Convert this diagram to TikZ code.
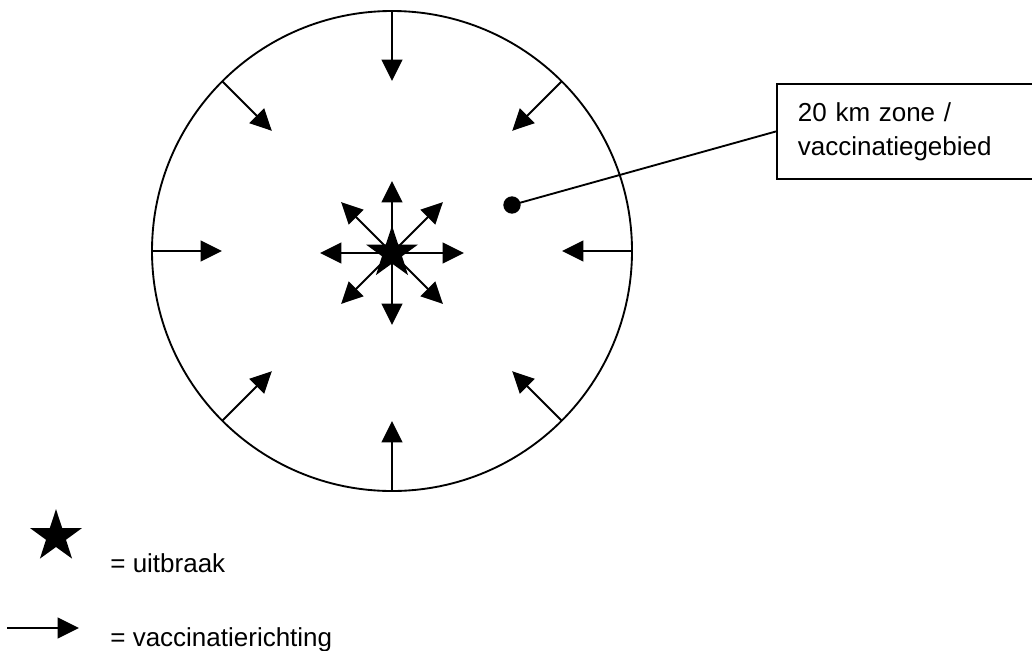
\documentclass[tikz,border=0pt]{standalone}
\usepackage{fontspec}
\setmainfont{Liberation Sans}
\usetikzlibrary{arrows.meta, calc, positioning, shapes.geometric}

\begin{document}
\begin{tikzpicture}[x=0.75pt, y=-0.75pt, line width=1.4pt,
    font=\fontsize{19.5}{25.5}\selectfont,
    vacc/.style={-{Triangle[length=16pt,width=15.5pt]}},
    outbreakstar/.style={star, star points=5, star point ratio=2.6,
        fill=black, inner sep=0pt, minimum size=#1},
]
\clip (0,0) rectangle (1032,650);

% 20 km zone
\node (zone20) [draw, circle, minimum size=360pt, inner sep=0pt, outer sep=0pt] at (392,251) {};
\foreach \a in {0,45,...,315}
    \draw[vacc] (zone20.\a) -- ($(zone20.\a)!52.5pt!(zone20.center)$);

% uitbraak in het midden
\coordinate (mid) at (392,253);
\foreach \a in {0,45,...,315}
    \draw[vacc] (mid) -- ++(\a:72);
\node (outbreak) [outbreakstar=41pt] at (mid) {};

\node (dot) [circle, fill=black, inner sep=0pt, minimum size=13pt] at (512,205) {};
\node (zonelabel) [draw, anchor=north west, text width=180pt, align=left,
    inner xsep=15.75pt, minimum height=71.25pt] at (776,83)
    {20 km zone /\\ vaccinatiegebied};
\draw (dot.center) -- (zonelabel.west);

% legenda
\node (keystar) [outbreakstar=41pt] at (56,536.5) {};
\node (keystartext) [anchor=base west] at (105,572) {= uitbraak};
\coordinate (keyfrom) at (7,628);
\coordinate (keyto) at (79,628);
\draw[vacc] (keyfrom) -- (keyto);
\node (keyarrowtext) [anchor=base west] at (105,646) {= vaccinatierichting};
\end{tikzpicture}
\end{document}
